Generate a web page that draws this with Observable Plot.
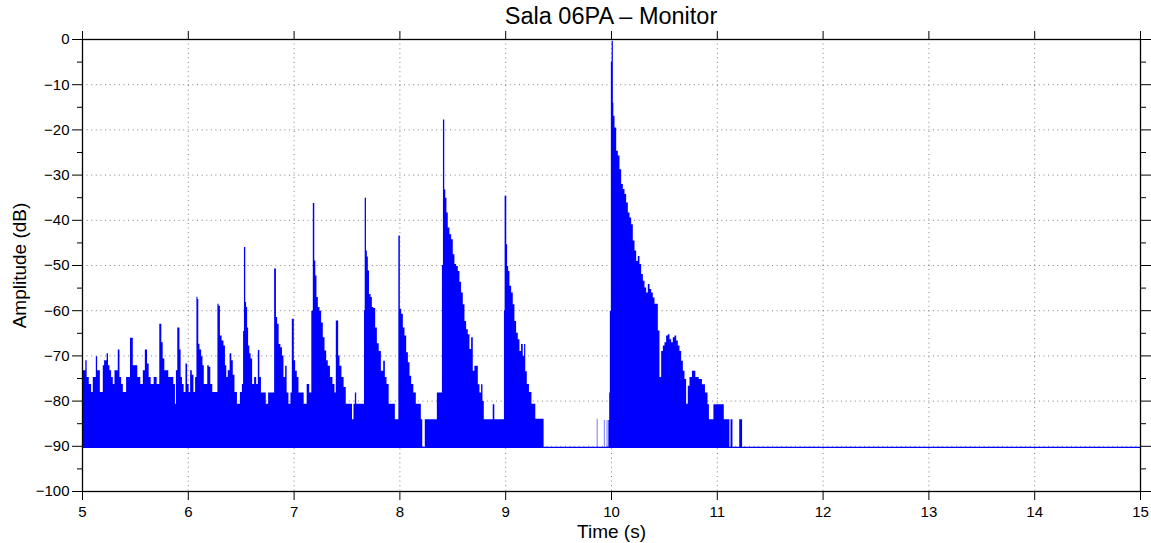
<!DOCTYPE html>
<html>
<head>
<meta charset="utf-8">
<script src="https://cdn.jsdelivr.net/npm/d3@7"></script>
<script src="https://cdn.jsdelivr.net/npm/@observablehq/plot@0.6"></script>
<style>
  html, body { margin: 0; padding: 0; background: #ffffff; }
  #wrap { position: relative; width: 1151px; height: 543px; font-family: 'Liberation Sans', Arial, Helvetica, sans-serif; color: #000; }
  #title { position: relative; width: 1151px; height: 28px; }
  #title span { position: absolute; left: 611px; top: 5px; transform: translateX(-50%); font-size: 23.5px; line-height: 23px; white-space: nowrap; }
  #chart svg { display: block; }
</style>
</head>
<body>
<div id="wrap">
  <div id="title"><span>Sala 06PA – Monitor</span></div>
  <div id="chart"></div>
</div>
<script>
// ---- Data (envelope of the dense waveform) ----
const titleText = "Sala 06PA – Monitor";
const xLabel = "Time (s)";
const yLabel = "Amplitude (dB)";

const xTicks = [5, 6, 7, 8, 9, 10, 11, 12, 13, 14, 15];
const yTicks = [-100, -90, -80, -70, -60, -50, -40, -30, -20, -10, 0];
const yMinorTicks = [-95, -85, -75, -65, -55, -45, -35, -25, -15, -5];
const xGrid = [6, 7, 8, 9, 10, 11, 12, 13, 14];
const yGrid = [-90, -80, -70, -60, -50, -40, -30, -20, -10];

// time (s) of each envelope point
const envTime = [
  5.000, 5.025, 5.038, 5.050, 5.078, 5.094, 5.110, 5.126, 5.135, 5.151, 5.164, 5.173, 5.189, 5.204, 5.214, 5.227,
  5.239, 5.252, 5.267, 5.283, 5.299, 5.315, 5.330, 5.346, 5.362, 5.378, 5.394, 5.409, 5.425, 5.441, 5.466, 5.472,
  5.488, 5.510, 5.535, 5.567, 5.583, 5.605, 5.624, 5.636, 5.662, 5.693, 5.718, 5.743, 5.756, 5.769, 5.787,
  5.806, 5.825, 5.850, 5.875, 5.882, 5.894, 5.907, 5.916, 5.926, 5.938, 5.951, 5.970, 5.986, 6.001, 6.014, 6.030,
  6.045, 6.061, 6.077, 6.086, 6.096, 6.102, 6.118, 6.134, 6.143, 6.159, 6.178, 6.190, 6.206, 6.219, 6.244, 6.275,
  6.285, 6.297, 6.310, 6.329, 6.345, 6.357, 6.370, 6.386, 6.405, 6.417, 6.433, 6.449, 6.480, 6.505, 6.518, 6.527,
  6.534, 6.540, 6.546, 6.556, 6.565, 6.575, 6.587, 6.600, 6.616, 6.638,
  6.654, 6.670, 6.682, 6.701, 6.726, 6.748, 6.770, 6.811, 6.821, 6.830, 6.836, 6.852, 6.865, 6.884, 6.896, 6.912,
  6.928, 6.940, 6.962, 6.978, 6.988, 6.997, 7.007, 7.022, 7.038, 7.054, 7.079, 7.111, 7.136, 7.158, 7.177, 7.186,
  7.192, 7.199, 7.211, 7.221, 7.237, 7.252, 7.268, 7.284, 7.300, 7.315, 7.331, 7.356, 7.378, 7.394, 7.404, 7.416,
  7.426, 7.441, 7.463, 7.482, 7.504,
  7.546, 7.558, 7.574, 7.584, 7.599, 7.662, 7.669, 7.675, 7.681, 7.687, 7.697, 7.706, 7.719, 7.735, 7.744, 7.763,
  7.779, 7.795, 7.814, 7.836, 7.858, 7.867, 7.889, 7.908, 7.946, 7.968, 7.987, 7.993, 7.999, 8.009, 8.025, 8.040,
  8.056, 8.072, 8.088, 8.103, 8.119, 8.144, 8.166, 8.198, 8.207, 8.215, 8.217, 8.239, 8.241, 8.349, 8.359,
  8.396, 8.408, 8.415, 8.421, 8.427, 8.440, 8.449, 8.465, 8.481, 8.497, 8.512, 8.528, 8.544, 8.560, 8.575, 8.591,
  8.607, 8.623, 8.638, 8.654, 8.670, 8.686, 8.701, 8.717, 8.733, 8.749, 8.764, 8.780, 8.790, 8.805, 8.880, 8.884,
  8.894, 8.900, 8.985, 8.991, 8.998, 9.007, 9.013, 9.023, 9.032, 9.048, 9.064, 9.079, 9.095, 9.111, 9.127, 9.142,
  9.158, 9.174, 9.183, 9.196, 9.212, 9.237, 9.259, 9.278, 9.291, 9.360, 9.366,
  9.865, 9.867, 9.870, 9.872, 9.932, 9.934, 9.937, 9.939, 9.959, 9.961, 9.964, 9.966, 9.974, 9.976, 9.982,
  9.984, 9.994, 10.003, 10.009, 10.016, 10.019, 10.025, 10.041, 10.057, 10.072, 10.088, 10.104, 10.120, 10.135,
  10.151, 10.167, 10.183, 10.198, 10.214, 10.230, 10.246, 10.261, 10.277, 10.293, 10.309, 10.324, 10.340, 10.356,
  10.372, 10.387, 10.403, 10.419, 10.435, 10.450, 10.466, 10.482, 10.498, 10.513, 10.529, 10.545, 10.561, 10.576,
  10.592, 10.608, 10.624, 10.639, 10.655, 10.671, 10.687, 10.702, 10.718, 10.734, 10.750, 10.781, 10.813, 10.844,
  10.875, 10.901, 10.923, 10.928, 10.966, 10.970, 11.064, 11.068, 11.118, 11.120, 11.129, 11.131, 11.147, 11.149,
  11.211, 11.213, 11.238, 11.240, 15.000
];

// envelope peak level (dB) at each time above
const envLevel = [
  -73.3, -73.3, -71.1, -74.8, -76.3, -78.1, -74.8, -74.8, -70.2, -73.3, -73.3, -78.1, -78.1, -72.2, -71.1, -71.1,
  -69.5, -72.2, -73.3, -74.8, -76.3, -73.3, -73.3, -68.7, -74.8, -76.3, -78.1, -78.1, -74.8, -74.8, -66.1, -66.1,
  -72.2, -72.2, -74.8, -76.3, -73.3, -68.7, -71.8, -74.8, -76.3, -74.8, -76.3, -63.0, -67.1, -70.7, -73.3,
  -73.3, -74.8, -74.8, -76.3, -80.7, -73.3, -63.8, -63.8, -68.7, -74.8, -76.3, -78.1, -71.8, -76.3, -78.1, -73.3,
  -74.3, -78.1, -74.8, -57.0, -57.5, -67.4, -68.7, -70.2, -72.2, -76.3, -76.3, -72.2, -72.5, -76.3, -78.1, -78.1,
  -58.6, -59.0, -65.6, -66.7, -67.8, -72.2, -74.8, -73.3, -69.5, -71.1, -74.3, -78.1, -80.7, -78.1, -76.3, -64.6,
  -46.0, -46.0, -58.2, -59.3, -63.8, -67.8, -69.5, -70.7, -76.3, -74.8,
  -76.3, -68.8, -74.8, -78.2, -78.2, -80.7, -78.2, -78.2, -50.8, -50.8, -61.5, -63.0, -67.5, -68.2, -70.0, -74.8,
  -72.3, -78.2, -80.7, -78.2, -61.9, -61.9, -71.1, -73.4, -74.8, -78.2, -78.2, -80.7, -76.3, -78.2, -60.1, -36.3,
  -36.3, -49.0, -52.3, -57.1, -59.3, -60.1, -62.7, -66.0, -68.9, -71.1, -72.3, -74.8, -76.3, -78.2, -62.3, -62.3,
  -70.0, -72.3, -74.8, -77.0, -80.7,
  -80.7, -84.1, -80.7, -78.2, -80.7, -80.7, -60.0, -35.1, -35.1, -46.8, -48.1, -51.2, -56.4, -57.1, -59.3, -59.5,
  -63.8, -67.3, -69.0, -73.4, -71.2, -74.8, -76.3, -80.7, -80.7, -84.1, -84.1, -43.5, -43.5, -59.7, -60.8, -63.8,
  -65.6, -69.3, -71.5, -74.5, -76.3, -78.2, -80.7, -80.7, -84.1, -84.1, -90.3, -90.3, -84.1, -84.1, -78.2,
  -78.2, -50.0, -17.8, -17.8, -33.3, -35.1, -38.4, -41.7, -43.2, -44.3, -47.6, -49.8, -50.2, -51.3, -53.7, -56.1,
  -58.7, -62.4, -64.2, -65.3, -68.6, -66.0, -73.4, -72.3, -72.3, -76.4, -78.2, -76.4, -80.1, -84.1, -84.1, -80.8,
  -80.8, -84.1, -84.1, -60.0, -34.7, -34.7, -45.4, -50.2, -51.3, -54.6, -56.1, -58.7, -62.4, -65.0, -66.4, -69.0,
  -67.5, -70.1, -67.5, -73.5, -76.3, -78.1, -80.7, -80.7, -84.0, -84.0, -90.3,
  -90.3, -84.0, -84.0, -90.3, -90.3, -84.3, -84.3, -90.3, -90.3, -84.3, -84.3, -90.3, -90.3, -84.3, -84.3,
  -78.2, -60.1, -5.0, -0.4, -0.4, -14.1, -17.0, -19.6, -24.7, -25.8, -28.8, -32.1, -33.2, -34.3,
  -36.2, -38.4, -39.5, -41.0, -44.6, -46.8, -49.1, -48.0, -49.8, -52.0, -53.5, -55.0, -56.1, -54.2,
  -55.3, -56.1, -57.2, -58.6, -58.6, -64.5, -74.8, -69.0, -67.8, -67.1, -65.6, -65.3, -66.4, -67.1,
  -66.0, -65.6, -66.7, -67.8, -69.0, -71.2, -73.4, -75.2, -80.7, -76.7, -74.8, -73.4, -74.8, -75.2,
  -76.4, -78.2, -80.8, -84.1, -84.1, -80.8, -80.8, -84.1, -84.1, -90.3, -90.3, -84.1, -84.1, -90.3,
  -90.3, -84.1, -84.1, -90.3, -90.3
];

// lower edge of the filled waveform and the noise-floor trace
const fillBottom = -90.45;
const floorTime = [5, 15];
const floorLevel = [-90.25, -90.25];

// ---- Build tables ----
const env = envTime.map((t, i) => ({t, db: envLevel[i]}));
const floor = floorTime.map((t, i) => ({t, db: floorLevel[i]}));

const fontFam = "'Liberation Sans', Arial, Helvetica, sans-serif";
const dotted = {stroke: "#555", strokeOpacity: 0.75, strokeWidth: 1, strokeDasharray: "1,3.6"};

const chart = Plot.plot({
  width: 1151,
  height: 515,
  marginLeft: 82,
  marginRight: 11,
  marginTop: 11,
  marginBottom: 52,
  style: {fontFamily: fontFam, fontSize: "15px", color: "#000", background: "#fff", overflow: "visible"},
  x: {domain: [5, 15]},
  y: {domain: [-100, 0]},
  marks: [
    Plot.gridX(xGrid, {...dotted}),
    Plot.gridY(yGrid, {...dotted}),
    Plot.areaY(env, {x: "t", y1: fillBottom, y2: "db", fill: "#0000ff", curve: "step"}),
    Plot.lineY(floor, {x: "t", y: "db", stroke: "#0000ff", strokeWidth: 1.2}),
    // bottom axis
    Plot.axisX(xTicks, {anchor: "bottom", tickSize: 9, tickPadding: 6, label: null, tickFormat: d => String(d), fontSize: 15}),
    // top axis (ticks only)
    Plot.axisX(xTicks, {anchor: "top", tickSize: 9, label: null, fill: "none"}),
    // left axis
    Plot.axisY(yTicks, {anchor: "left", tickSize: 10, tickPadding: 3, label: null, fontSize: 15}),
    Plot.axisY(yMinorTicks, {anchor: "left", tickSize: 5, label: null, fill: "none"}),
    // right axis (ticks only)
    Plot.axisY(yTicks, {anchor: "right", tickSize: 10, label: null, fill: "none"}),
    Plot.axisY(yMinorTicks, {anchor: "right", tickSize: 5, label: null, fill: "none"}),
    Plot.frame({stroke: "#000", strokeWidth: 1.3}),
    // axis titles
    Plot.text([xLabel], {frameAnchor: "bottom", dy: 40, lineAnchor: "middle", textAnchor: "middle", text: d => d, fontSize: 19, fill: "#000"}),
    Plot.text([yLabel], {frameAnchor: "left", dx: -63, rotate: -90, lineAnchor: "middle", textAnchor: "middle", text: d => d, fontSize: 19, fill: "#000"})
  ]
});

document.getElementById("chart").appendChild(chart);
document.querySelector("#title span").textContent = titleText;
</script>
</body>
</html>
